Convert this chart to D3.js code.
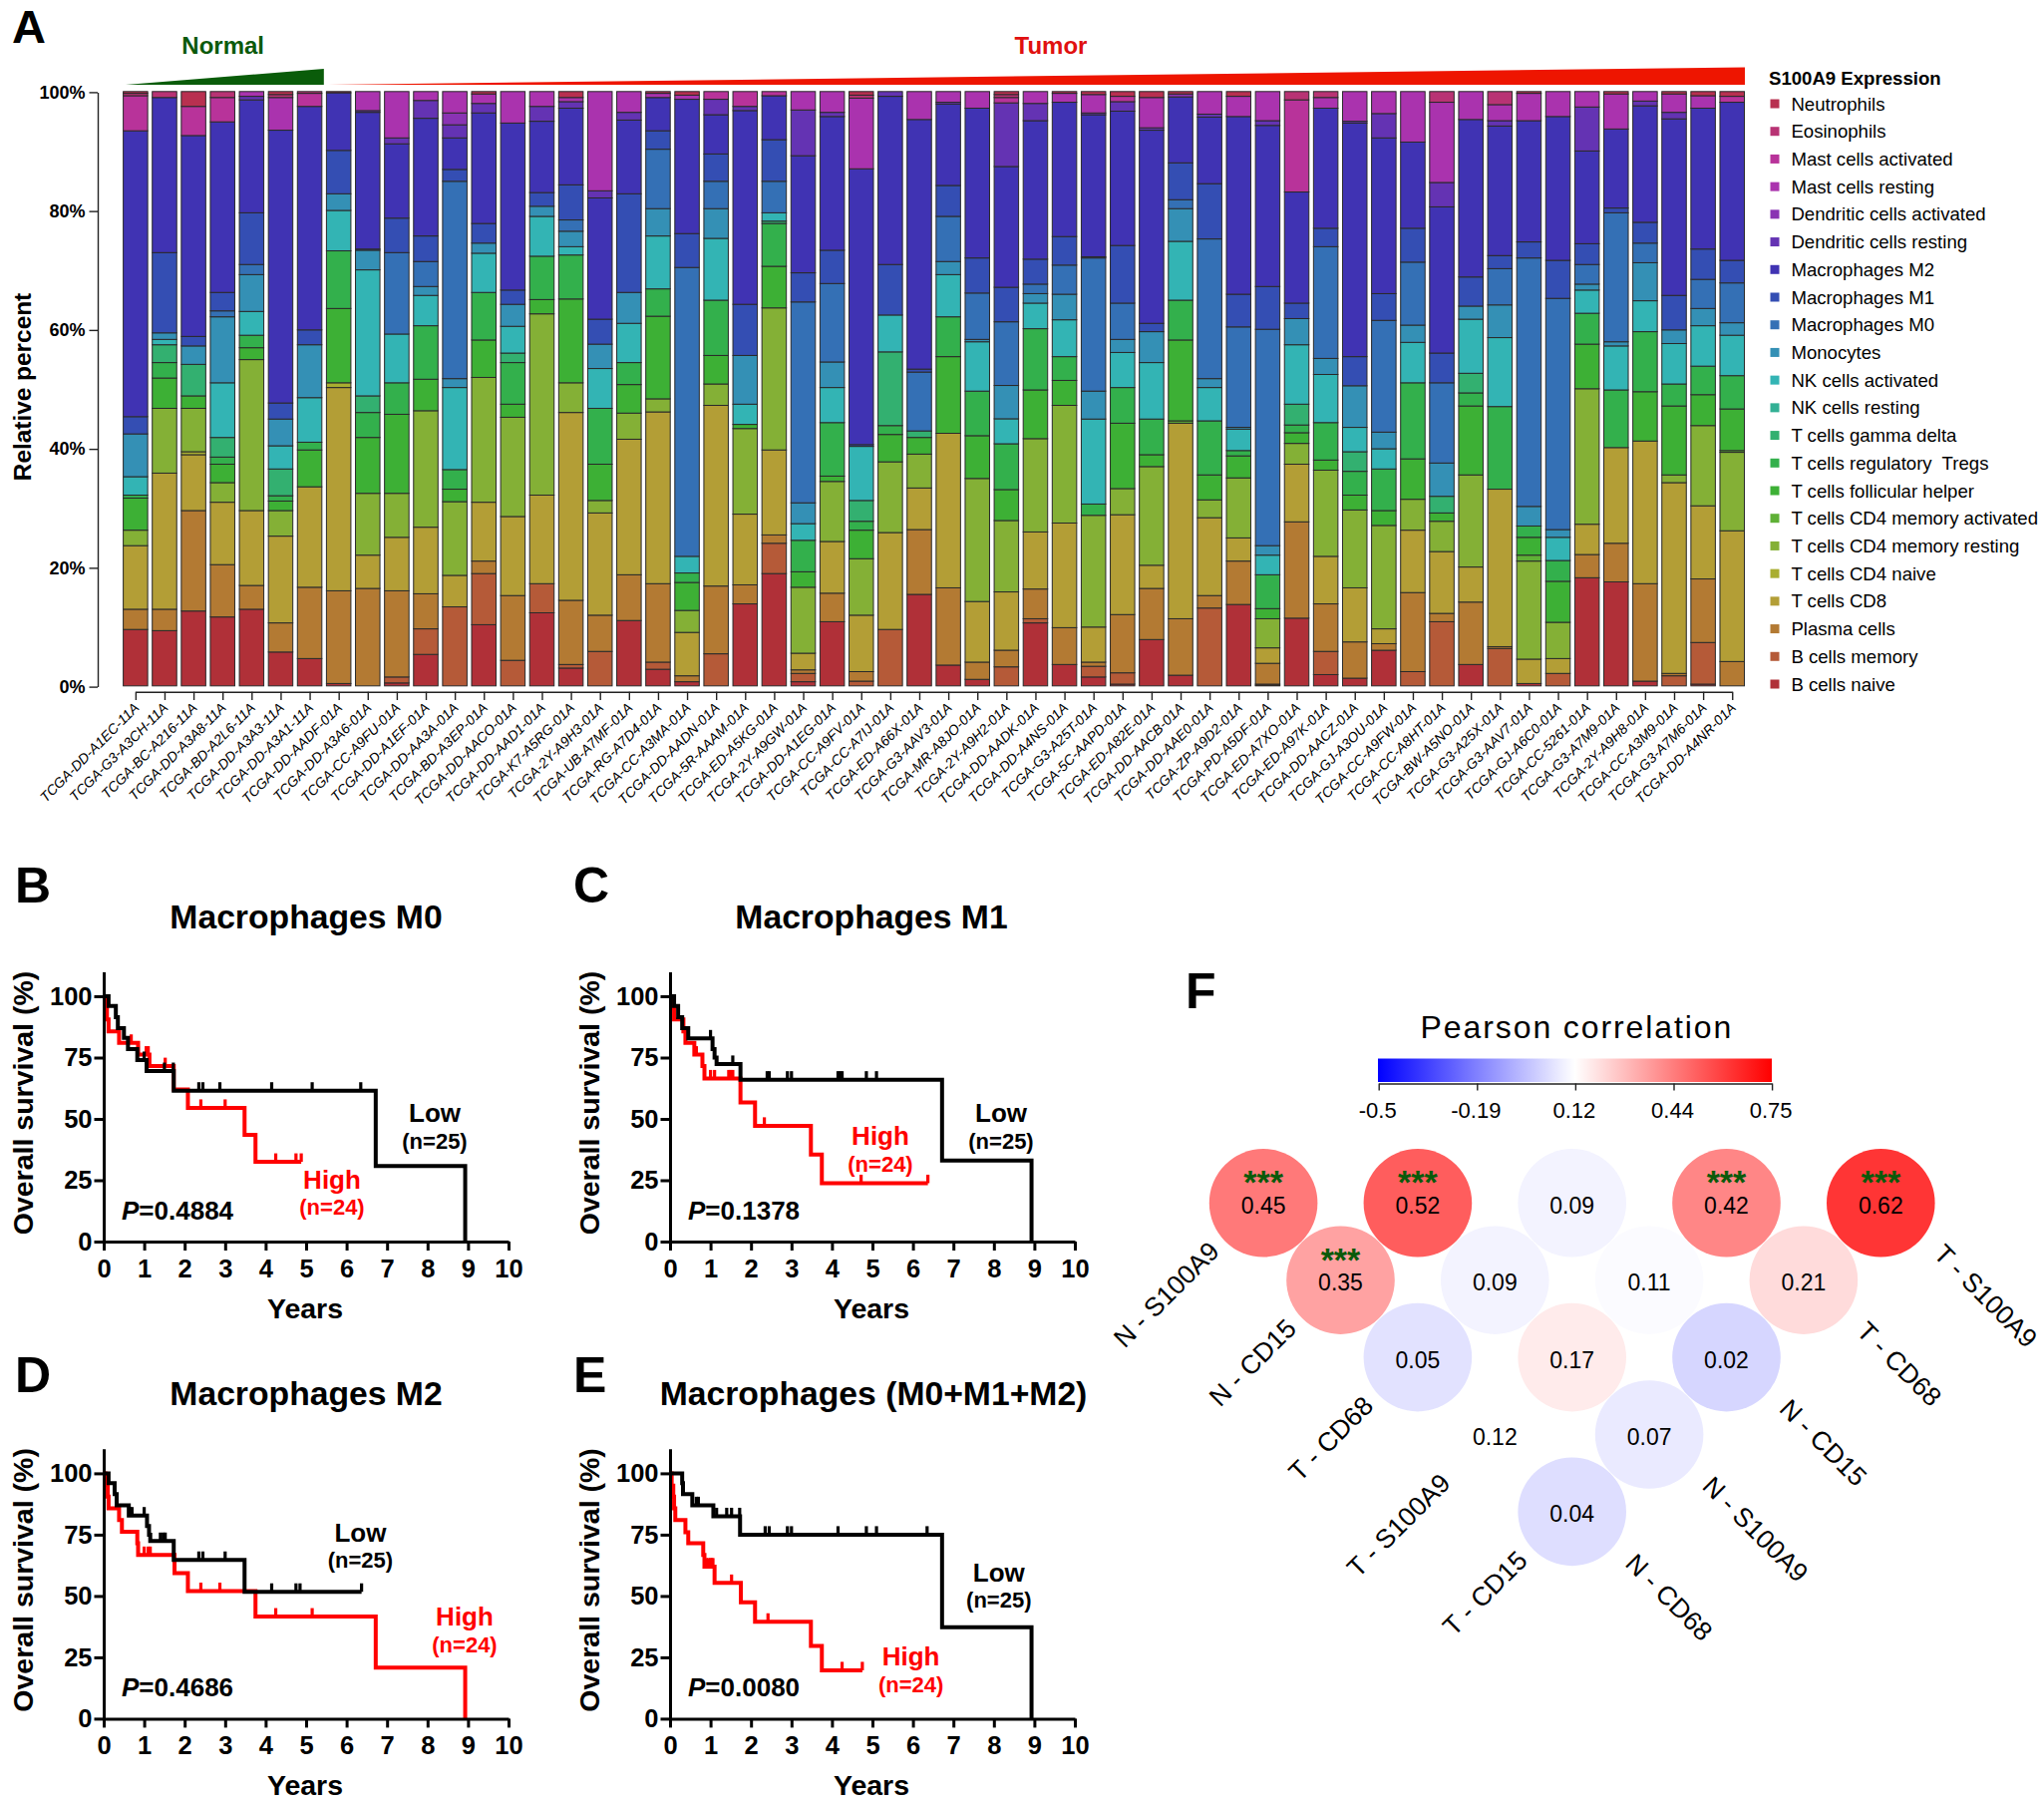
<!DOCTYPE html>
<html><head><meta charset="utf-8">
<script src="https://cdn.jsdelivr.net/npm/d3@7/dist/d3.min.js"></script>
<style>html,body{margin:0;padding:0;background:#fff}svg{display:block}text{font-family:"Liberation Sans",Arial,sans-serif;fill:#000;white-space:pre}</style>
</head><body><svg id="c" width="2050" height="1809" viewBox="0 0 2050 1809"></svg>
<script>
// ---------- Panel A data ----------
const samples=["TCGA-DD-A1EC-11A","TCGA-G3-A3CH-11A","TCGA-BC-A216-11A","TCGA-DD-A3A8-11A","TCGA-BD-A2L6-11A","TCGA-DD-A3A3-11A","TCGA-DD-A3A1-11A","TCGA-DD-AADF-01A","TCGA-DD-A3A6-01A","TCGA-CC-A9FU-01A","TCGA-DD-A1EF-01A","TCGA-DD-AA3A-01A","TCGA-BD-A3EP-01A","TCGA-DD-AACO-01A","TCGA-DD-AAD1-01A","TCGA-K7-A5RG-01A","TCGA-2Y-A9H3-01A","TCGA-UB-A7MF-01A","TCGA-RG-A7D4-01A","TCGA-CC-A3MA-01A","TCGA-DD-AADN-01A","TCGA-5R-AAAM-01A","TCGA-ED-A5KG-01A","TCGA-2Y-A9GW-01A","TCGA-DD-A1EG-01A","TCGA-CC-A9FV-01A","TCGA-CC-A7IJ-01A","TCGA-ED-A66X-01A","TCGA-G3-AAV3-01A","TCGA-MR-A8JO-01A","TCGA-2Y-A9H2-01A","TCGA-DD-AADK-01A","TCGA-DD-A4NS-01A","TCGA-G3-A25T-01A","TCGA-5C-AAPD-01A","TCGA-ED-A82E-01A","TCGA-DD-AACB-01A","TCGA-DD-AAE0-01A","TCGA-ZP-A9D2-01A","TCGA-PD-A5DF-01A","TCGA-ED-A7XO-01A","TCGA-ED-A97K-01A","TCGA-DD-AACZ-01A","TCGA-GJ-A3OU-01A","TCGA-CC-A9FW-01A","TCGA-CC-A8HT-01A","TCGA-BW-A5NO-01A","TCGA-G3-A25X-01A","TCGA-G3-AAV7-01A","TCGA-GJ-A6C0-01A","TCGA-CC-5261-01A","TCGA-G3-A7M9-01A","TCGA-2Y-A9H8-01A","TCGA-CC-A3M9-01A","TCGA-G3-A7M6-01A","TCGA-DD-A4NR-01A"];
// stacked bottom to top
const cellTypes=["B cells naive","B cells memory","Plasma cells","T cells CD8","T cells CD4 naive","T cells CD4 memory resting","T cells CD4 memory activated","T cells follicular helper","T cells regulatory  Tregs","T cells gamma delta","NK cells resting","NK cells activated","Monocytes","Macrophages M0","Macrophages M1","Macrophages M2","Dendritic cells resting","Dendritic cells activated","Mast cells resting","Mast cells activated","Eosinophils","Neutrophils"];
const cellColors=["#B03038","#B55A38","#B37A33","#B39E36","#A9AE30","#84B036","#5FB036","#3DB035","#33B04C","#33B070","#33B095","#33B4B4","#3490B5","#3470B5","#344EB3","#4033B3","#6433B3","#8A33B3","#AA33AE","#B8339A","#B83374","#B83050"];
const r01=[9.5,0,3.4,10.7,0,2.6,0,5.4,.5,0,0,3.1,7.2,0,2.9,48.1,0,0,0,5.9,.4,.3];
const r02=[9.3,0,3.6,22.9,0,10.9,0,5.1,2.6,3,0,.9,1.1,0,13.5,26.1,0,0,0,0,1,0];
const r03=[12.6,0,16.9,9.4,.5,7.3,0,2.1,0,5.3,0,0,3.1,0,1.6,33.8,0,0,0,4.9,0,2.5];
const r04=[11.6,0,8.8,10.5,0,3.3,0,3.1,1.2,3.3,0,9.2,11.1,1,3.1,28.7,0,0,0,4.1,1,0];
const r05=[12.9,0,4,12.6,0,25.4,0,2,2.1,0,0,4,6.2,1.7,8.7,19,.6,0,.8,0,0,0];
const r06=[5.7,0,4.9,14.6,0,4.3,0,1.6,.9,4.5,0,3.9,4.5,0,2.7,45.9,0,0,5.5,0,.5,.5];
const r07=[4.6,0,12,16.9,0,0,0,6.2,1.3,0,0,7.5,8.9,0,2.5,37.6,0,0,0,2.2,.3,0];
const r08=[.4,0,15.6,34.2,.8,0,0,12.5,9.7,0,0,6.8,2.8,0,7.3,9.7,0,0,0,0,0,.2];
const r09=[0,0,16.4,5.6,0,10.4,0,9.4,4.2,2.8,0,21.2,3.3,0,.2,23,.3,0,3.2,0,0,0];
const r10=[.5,1,14.5,9,0,7.4,0,13.3,5.3,0,0,8.2,0,13.7,5.8,12.5,1,0,7.8,0,0,0];
const r11=[5.3,4.3,5.9,11.2,0,19.6,0,5.3,9,0,0,5.1,1.5,4.2,4.3,19.8,3,0,1.5,0,0,0];
const r12=[0,13.3,0,5.3,0,12.4,0,2.1,3.3,0,0,13.8,1.5,33.2,2,5.3,2.2,2,3.6,0,0,0];
const r13=[10.3,8.6,2.1,9.9,0,21,0,6.3,8,0,0,6.6,1.7,0,3.3,18.6,1.6,0,1.6,0,0,.4];
const r14=[0,4.3,10.9,13.3,0,16.7,0,2.2,7,1.6,0,4.5,3.7,0,2.4,28.1,0,0,5.3,0,0,0];
const r15=[12.3,4.9,0,14.9,0,30.5,0,2.4,7.3,0,0,6.7,1.7,0,2.3,12,2.5,0,2.5,0,0,0];
const r16=[3,.6,10.8,31.6,0,5,0,14.1,7.4,0,0,1.4,2.6,1.9,5.9,12.9,1.1,0,.7,0,0,1];
const r17=[0,5.8,6.1,17.2,0,2.1,0,6.1,9.4,0,0,6.7,4.1,0,4.2,20.4,1.2,0,16.7,0,0,0];
const r18=[11,0,7.7,22.8,0,4.4,0,4.8,3.7,0,0,6.6,5.2,0,16.6,12.4,1.3,0,3.5,0,0,0];
const r19=[2.8,1.2,13.2,28.9,0,2.2,0,13.9,4.6,0,0,8.9,4.6,10,3.1,5.6,0,0,.7,0,0,.3];
const r20=[.7,0,1,7.3,0,3.7,0,4.7,1.6,0,0,2.8,0,48.6,5.7,22.6,0,0,.7,0,0,.6];
const r21=[0,5.4,11.4,30.4,0,3.6,0,4.8,9.3,0,0,10.4,5,4.6,4.6,6.6,2.6,0,0,1.3,0,0];
const r22=[13.8,0,3.2,11.9,0,14.4,0,.7,0,0,0,3.4,8.2,0,8.6,32.6,.7,0,0,2.5,0,0];
const r23=[18.9,5.1,1.4,14.3,0,23.9,0,7,7.2,.4,0,1.4,0,5.3,7,7.4,0,0,0,.7,0,0];
const r24=[.7,1.4,.6,2.8,0,11.1,0,2.6,5.3,0,0,2.8,3.5,33.8,4.9,19.7,7.7,0,3.1,0,0,0];
const r25=[10.8,0,4.8,8.7,0,10.1,0,.9,9,0,0,5.9,4.3,13.2,5.6,22.5,.7,0,3.5,0,0,0];
const r26=[0,.8,1.6,9.5,0,9.5,0,4.8,1.5,3.5,0,9.1,0,0,.3,46.4,0,0,11.9,0,.5,.6];
const r27=[0,9.5,0,16.3,0,11.9,0,4.6,1.5,12.4,0,6.2,0,0,8.5,28.3,.8,0,0,0,0,0];
const r28=[15.4,0,10.9,7,0,5.7,0,2.8,0,1.1,0,0,0,9.9,.5,42,0,0,4.7,0,0,0];
const r29=[3.5,0,13,26,0,0,0,12.9,6.7,0,0,7.1,2.2,7.6,5.2,13.7,.3,0,1.8,0,0,0];
const r30=[1.1,0,2.9,10.2,0,20.7,0,7.2,7.5,0,0,8.3,.4,7.8,5.9,25.2,0,0,2.8,0,0,0];
const r31=[0,3.2,2.8,9.8,0,12,0,5.2,7.7,0,0,4.2,5.6,10.7,5.8,20.3,10.7,0,0,.9,.5,.5];
const r32=[10.6,.7,5,9.6,0,15.7,0,8.2,10.3,0,0,4.3,1.6,1.6,4.2,23.3,2.9,0,2,0,0,0];
const r33=[3.6,0,6.2,17.6,0,19.8,0,4.2,4,0,0,6.2,4.3,4.9,4.8,22.6,0,0,1.5,0,0,.3];
const r34=[1.5,1.8,.7,5.9,0,18.8,0,0,1.9,0,0,14.3,4.7,22.4,.2,23.9,.3,0,3.1,0,0,.5];
const r35=[.3,1.9,9.8,16.8,0,4.4,0,11,6,0,0,5.9,2.2,6.1,9.7,22.6,1.6,0,0,.9,0,.8];
const r36=[7.8,0,8.6,3.9,0,16.6,0,2,6,0,0,9.5,5.2,0,1.4,32.5,.4,0,5.1,0,0,1];
const r37=[1.8,0,9.5,32.9,0,0,.4,13.6,6.7,0,0,9.9,5.5,1.5,6.2,11.1,0,.5,0,0,0,.4];
const r38=[0,13.1,2.1,13.1,0,3,0,4.2,9.1,0,0,5.6,1.5,23.5,9.3,11.2,.5,0,3.8,0,0,0];
const r39=[13.7,0,7.3,3.9,0,10.1,0,3.7,.9,0,0,3.6,.3,16.9,5.5,29.9,0,0,3.4,0,0,.8];
const r40=[.1,.2,3.5,2.6,0,4.9,0,1.7,5.7,0,0,3.3,1.6,36.4,7.2,27.1,.8,0,4.9,0,0,0];
const r41=[11.4,0,16.2,9.7,0,3.5,0,1.8,1.3,3.5,0,10,4.4,0,2.6,18.7,0,0,0,15.5,1.4,0];
const r42=[1.9,3.9,8,8,0,14.5,0,1.7,6.3,0,0,8.1,2.7,18.8,3.1,20.2,0,0,1.8,0,1,0];
const r43=[1.3,0,6.1,9.1,0,13.1,0,2.5,4,3.3,0,4.1,7,0,4.9,39.3,.3,0,5,0,0,0];
const r44=[6,0,1.1,2.5,0,17.4,0,2.5,7,0,0,3.4,2.8,18.8,4.5,26.2,4.1,0,3.7,0,0,0];
const r45=[0,2.4,13.3,10.5,0,5.2,0,6.8,12.8,0,0,6.8,2.9,10.6,5.7,14.5,0,0,8.5,0,0,0];
const r46=[0,10.8,1.4,10.4,0,5.1,0,1.4,0,2.8,0,0,5.6,13.5,5,24.6,4.1,0,13.5,0,1.8,0];
const r47=[3.6,0,10.5,5.9,0,15.5,0,11.6,2.2,3.3,0,9.1,2.2,0,4.9,26.5,0,0,4.7,0,0,0];
const r48=[0,6.3,.3,26.5,0,0,0,0,13.9,0,0,11.6,5.5,6.1,2.2,21.8,.9,0,2.7,0,2.2,0];
const r49=[.4,0,0,4.1,0,16.5,1,3,1.9,0,0,0,3.3,41.8,2.7,20.4,0,0,4.6,0,0,.3];
const r50=[0,2.1,0,2.5,0,6.1,0,6.9,3.5,0,0,3.9,1.3,38.9,6.4,24.2,0,0,4.2,0,0,0];
const r51=[18.2,0,3.9,5.1,0,22.8,0,7.5,5.2,0,0,3.9,1,3.3,3.5,15.6,7.4,0,2.6,0,0,0];
const r52=[17.5,0,6.5,16.1,0,0,0,0,9.7,0,0,7.4,.7,21.7,.8,13.3,0,0,5.9,0,0,.4];
const r53=[.8,0,16.4,24,0,0,0,8.3,10.1,0,0,5.2,6.4,3.3,3.5,19.6,.8,0,1.6,0,0,0];
const r54=[0,1.7,.4,32.1,0,1.3,0,11.6,3.7,0,0,6.8,2.3,0,5.8,29.7,1.1,0,3.1,0,0,.4];
const r55=[.3,7,10.7,12.3,0,13.5,0,5.2,4.8,0,0,6.8,2.9,4.9,5.1,23.7,0,0,2.1,0,0,.7];
const r56=[0,0,4.1,22,0,13.2,.3,7,5.6,0,0,6.8,2.1,6.7,3.8,26.6,0,0,0,1,0,.8];
const pctTicks=[0,20,40,60,80,100];

// ---------- Panels B-E data (years, % surviving, censor years) ----------
const yearTicks=[0,1,2,3,4,5,6,7,8,9,10];
const survivalTicks=[0,25,50,75,100];
const bLowT=[0,.12,.3,.35,.5,.6,.83,1.06,1.73,6.72,8.93];
const bLowS=[100,96,91.5,87,83,78.5,74,69.5,61.5,30.8,0];
const bLowC=[1,1.5,1.72,2.35,2.45,2.87,4.15,5.15,6.35];
const bHighT=[0,.04,.08,.12,.38,.85,1.13,1.73,2.08,3.48,3.75,4.88];
const bHighS=[100,95.2,90.5,85.7,81,76.2,71.5,62,54.5,43.5,32.5,32.5];
const bHighC=[.68,.85,1.05,1.1,1.52,2.4,3,4.25,4.75,4.88];
const cLowT=[0,.1,.2,.3,.45,1.05,1.1,1.15,1.74,6.72,8.93];
const cLowS=[100,96,91.5,87,82.8,78.5,75,72.4,66,33,0];
const cLowC=[1,1.55,2.4,2.45,2.9,3,4.15,4.2,4.25,4.85,5.1];
const cHighT=[0,.05,.1,.33,.38,.6,.8,.85,1.74,2.1,3.48,3.75,6.37];
const cHighS=[100,95.2,90.5,85.7,81,76.2,71.5,66.5,56.7,47.2,35.5,23.8,23.8];
const cHighC=[.65,1,1.1,1.45,1.5,1.55,2.33,4.72,6.37];
const dLowT=[0,.12,.27,.32,.62,1.07,1.12,1.15,1.73,3.48,6.37];
const dLowS=[100,96,91.5,87,82.8,78.5,75,72.4,64.7,51.7,51.7];
const dLowC=[.65,.7,1,1.4,1.47,1.52,2.35,2.45,3,4.15,4.75,4.85,6.37];
const dHighT=[0,.04,.1,.12,.38,.45,.83,.85,1.75,2.08,3.75,6.72,8.93];
const dHighS=[100,95.2,90.5,85.7,81,76.2,71.5,66.7,59.3,52,41.6,20.8,0];
const dHighC=[1,1.1,1.15,2.4,2.87,4.25,5.15];
const eLowT=[0,.3,.32,.55,1.07,1.73,6.72,8.93];
const eLowS=[100,96,91.5,87,82.5,75,37.3,0];
const eLowC=[.65,.7,1.15,1.4,1.52,1.72,2.35,2.45,2.9,3,4.15,4.85,5.1,6.35];
const eHighT=[0,.04,.08,.1,.13,.38,.45,.82,.85,1.1,1.75,2.1,3.48,3.75,4.75];
const eHighS=[100,95,90.5,85.7,81,76,71.5,66.7,62,55.3,47.4,39.5,29.6,19.7,19.7];
const eHighC=[.9,.95,1,1.03,1.06,1.52,2.42,4.25,4.75];

// ---------- Panel F data ----------
const corrRow1=[.45,.52,.09,.42,.62];
const corrRow2=[.35,.09,.11,.21];
const corrRow3=[.05,.17,.02];
const corrRow4=[.12,.07];
const corrRow5=[.04];
const starRow1=[1,1,0,1,1];
const starRow2=[1,0,0,0];
const leftNames=["N - S100A9","N - CD15","T - CD68","T - S100A9","T - CD15"];
const rightNames=["T - S100A9","T - CD68","N - CD15","N - S100A9","N - CD68"];
const colorbarTicks=[-.5,-.19,.12,.44,.75];

// ---------- drawing ----------
const svg=d3.select("#c");
function label(x,y,s,o={}){
  const t=svg.append("text").attr("x",x).attr("y",y).text(s)
    .attr("font-size",o.size||20).attr("font-weight",o.bold?"bold":"normal")
    .attr("text-anchor",o.anchor||"start");
  if(o.fill)t.style("fill",o.fill);
  if(o.rotate!==undefined)t.attr("transform",`rotate(${o.rotate} ${x} ${y})`);
  if(o.spacing)t.style("letter-spacing",o.spacing+"px");
  if(o.baseline)t.attr("dominant-baseline",o.baseline);
  return t;
}
[["A",12,43,47],["B",15,905,50],["C",575,905,50],["D",15,1396,50],["E",575,1396,50],["F",1189,1011,50]].forEach(d=>label(d[1],d[2],d[0],{size:d[3],bold:true}));

// Panel A
const table=[r01,r02,r03,r04,r05,r06,r07,r08,r09,r10,r11,r12,r13,r14,r15,r16,r17,r18,r19,r20,r21,r22,r23,r24,r25,r26,r27,r28,r29,r30,r31,r32,r33,r34,r35,r36,r37,r38,r39,r40,r41,r42,r43,r44,r45,r46,r47,r48,r49,r50,r51,r52,r53,r54,r55,r56];
const xBand=d3.scaleBand().domain(samples).range([123.6,1749.5]).paddingInner(.158).paddingOuter(0);
const yBar=d3.scaleLinear().domain([0,1]).range([687.8,91.8]);
const stack=d3.stack().keys(d3.range(cellTypes.length)).value((row,k)=>row[k]).offset(d3.stackOffsetExpand);
const layers=stack(table);
const gBars=svg.append("g");
layers.forEach((layer,k)=>{
  gBars.append("g").selectAll("rect").data(layer.map((d,i)=>({y0:d[0],y1:d[1],s:samples[i]})).filter(d=>d.y1>d.y0))
    .join("rect").attr("x",d=>xBand(d.s)).attr("width",xBand.bandwidth())
    .attr("y",d=>yBar(d.y1)).attr("height",d=>yBar(d.y0)-yBar(d.y1))
    .attr("fill",cellColors[k]).attr("stroke","#2a2a2a").attr("stroke-width",1);
});
const yPct=d3.scaleLinear().domain([0,100]).range([688.6,92.4]);
const axA=svg.append("g").attr("transform","translate(98,0)").call(d3.axisLeft(yPct).tickValues(pctTicks).tickFormat(d=>d+"%").tickSize(8.5).tickSizeOuter(0).tickPadding(4));
axA.selectAll("path,line").attr("stroke","#222").attr("stroke-width",1.4);
axA.selectAll("text").attr("font-size",18).attr("font-weight","bold").attr("font-family",null);
const xPoint=d3.scalePoint().domain(samples).range([xBand(samples[0])+xBand.bandwidth()/2,xBand(samples[55])+xBand.bandwidth()/2]);
const axX=svg.append("g").attr("transform","translate(0,693.7)").call(d3.axisBottom(xPoint).tickSize(8.3).tickSizeOuter(0));
axX.selectAll("path,line").attr("stroke","#222").attr("stroke-width",1.4);
axX.selectAll("text").attr("font-size",14).attr("font-style","italic").attr("font-family",null)
  .attr("text-anchor","end").attr("y",0).attr("dy",0).attr("x",0)
  .attr("transform","translate(4,17) rotate(-45)");
label(31,388,"Relative percent",{size:24.4,bold:true,anchor:"middle",rotate:-90});
label(223.7,54,"Normal",{size:24,bold:true,anchor:"middle",fill:"#0B5A0B"});
label(1054,54,"Tumor",{size:24,bold:true,anchor:"middle",fill:"#E01010"});
const rampUnit=[0,1];
const wedge=(a,b,h)=>d3.area().x(d=>a+(b-a)*d).y0(85).y1(d=>85-h*d)(rampUnit);
svg.append("path").attr("d",wedge(126,xBand(samples[6])+xBand.bandwidth()+2,16)).attr("fill","#0A5C0A");
svg.append("path").attr("d",wedge(329.5,1750,17.5)).attr("fill","#EE1500");
label(1774,85,"S100A9 Expression",{size:18.6,bold:true});
const legendY=d3.scaleLinear().domain([0,21]).range([104,686]);
cellTypes.slice().reverse().forEach((n,i)=>{
  svg.append("rect").attr("x",1775.5).attr("y",legendY(i)-4.5).attr("width",9).attr("height",9).attr("fill",cellColors[21-i]);
  label(1796.4,legendY(i),n,{size:18.6,baseline:"central"});
});

// Panels B-E
const kmY0={top:1245,bottom:1723.4};
function km(o){
  const x=d3.scaleLinear().domain([0,10]).range([o.x0,o.x0+406]);
  const y=d3.scaleLinear().domain([0,100]).range([o.y0,o.y0-246]);
  const yAxisScale=d3.scaleLinear().domain([0,110]).range([y(0),y(110)]);
  const line=d3.line().x(d=>x(d[0])).y(d=>y(d[1])).curve(d3.curveStepAfter);
  const g=svg.append("g");
  [[o.high,"#FF0000"],[o.low,"#000"]].forEach(([c,col])=>{
    g.append("path").attr("d",line(d3.zip(c.t,c.s))).attr("fill","none").attr("stroke",col).attr("stroke-width",4);
    g.append("g").selectAll("line").data(c.c).join("line")
      .attr("x1",d=>x(d)).attr("x2",d=>x(d))
      .attr("y1",d=>y(c.s[d3.bisectRight(c.t,d)-1]))
      .attr("y2",d=>y(c.s[d3.bisectRight(c.t,d)-1])-8.5)
      .attr("stroke",col).attr("stroke-width",3.2);
  });
  const ax=svg.append("g").attr("transform",`translate(${o.x0},0)`).call(d3.axisLeft(yAxisScale).tickValues(survivalTicks).tickSize(9.5).tickSizeOuter(0).tickPadding(2));
  const bx=svg.append("g").attr("transform",`translate(0,${o.y0})`).call(d3.axisBottom(x).tickValues(yearTicks).tickFormat(d3.format("d")).tickSize(9).tickSizeOuter(0).tickPadding(9));
  [ax,bx].forEach(a=>{a.selectAll("path,line").attr("stroke","#000").attr("stroke-width",3);a.selectAll("text").attr("font-size",25.5).attr("font-weight","bold").attr("font-family",null);});
  label(o.x0-71,o.y0-139,"Overall survival (%)",{size:28.5,bold:true,anchor:"middle",rotate:-90});
  label(o.x0+202,o.y0+77,"Years",{size:28.5,bold:true,anchor:"middle"});
  label(o.titleX,o.titleY,o.title,{size:33.7,bold:true,anchor:"middle"});
  const p=label(o.x0+18,o.pY,"",{size:26,bold:true});
  p.append("tspan").attr("font-style","italic").text("P");p.append("tspan").text("="+o.p);
  label(o.lowX,o.lowY,"Low",{size:26,bold:true,anchor:"middle"});
  label(o.lowX,o.lowY+26.7,"(n=25)",{size:22,bold:true,anchor:"middle"});
  label(o.highX,o.highY,"High",{size:26,bold:true,anchor:"middle",fill:"#FF0000"});
  label(o.highX,o.highY+26.7,"(n=24)",{size:22,bold:true,anchor:"middle",fill:"#FF0000"});
}
km({x0:104,y0:kmY0.top,title:"Macrophages M0",titleX:307,titleY:930.7,p:"0.4884",pY:1222.7,lowX:436,lowY:1125,highX:333,highY:1191.7,low:{t:bLowT,s:bLowS,c:bLowC},high:{t:bHighT,s:bHighS,c:bHighC}});
km({x0:672,y0:kmY0.top,title:"Macrophages M1",titleX:874,titleY:930.7,p:"0.1378",pY:1222.7,lowX:1004,lowY:1125,highX:883,highY:1148,low:{t:cLowT,s:cLowS,c:cLowC},high:{t:cHighT,s:cHighS,c:cHighC}});
km({x0:104,y0:kmY0.bottom,title:"Macrophages M2",titleX:307,titleY:1409.3,p:"0.4686",pY:1701,lowX:361.4,lowY:1545.7,highX:466,highY:1630,low:{t:dLowT,s:dLowS,c:dLowC},high:{t:dHighT,s:dHighS,c:dHighC}});
km({x0:672,y0:kmY0.bottom,title:"Macrophages (M0+M1+M2)",titleX:876,titleY:1409.3,p:"0.0080",pY:1701,lowX:1001.8,lowY:1585.7,highX:913.6,highY:1670,low:{t:eLowT,s:eLowS,c:eLowC},high:{t:eHighT,s:eHighS,c:eHighC}});

// Panel F
const corColor=d3.scaleLinear().domain([-.5,.12,.75]).range(["#0000FF","#FFFFFF","#FF0000"]);
label(1581.4,1041,"Pearson correlation",{size:32,anchor:"middle",spacing:1.9});
const cbX=d3.scaleLinear().domain(colorbarTicks).range(d3.range(5).map(i=>1382.7+i*98.6));
const defs=svg.append("defs");
const grad=defs.append("linearGradient").attr("id","cb");
d3.range(0,1.0001,.05).forEach(f=>{const px=cbX.range()[0]+f*394.4;grad.append("stop").attr("offset",f).attr("stop-color",corColor(cbX.invert(px)));});
svg.append("rect").attr("x",1382).attr("y",1061.5).attr("width",395).attr("height",23.5).attr("fill","url(#cb)");
const axCb=svg.append("g").attr("transform","translate(0,1086.5)").call(d3.axisBottom(cbX).tickValues(colorbarTicks).tickFormat(String).tickSize(7).tickSizeOuter(0).tickPadding(12));
axCb.selectAll("path,line").attr("stroke","#222").attr("stroke-width",1.4);
axCb.selectAll("text").attr("font-size",22).attr("font-family",null).attr("dx",-1.5);
const gridX=d3.scaleLinear().domain([0,4]).range([1267.1,1886.3]);
const gridY=d3.scaleLinear().domain([0,4]).range([1206.3,1515.9]);
[corrRow1,corrRow2,corrRow3,corrRow4,corrRow5].forEach((row,r)=>{
  svg.append("g").selectAll("circle").data(row).join("circle")
    .attr("cx",(d,i)=>gridX(i+r/2)).attr("cy",gridY(r)).attr("r",54.3).attr("fill",d=>corColor(d));
});
[corrRow1,corrRow2,corrRow3,corrRow4,corrRow5].forEach((row,r)=>{
  row.forEach((v,i)=>label(gridX(i+r/2),gridY(r)+2.5,v.toFixed(2),{size:23,anchor:"middle",baseline:"central"}));
});
[starRow1,starRow2].forEach((row,r)=>{
  row.forEach((s,i)=>{if(s)label(gridX(i+r/2),gridY(r)-9,"***",{size:34,bold:true,anchor:"middle",fill:"#0A5A0A"});});
});
const nameStep=d3.scaleLinear().domain([0,4]);
const leftX=nameStep.copy().range([1218,1527]),leftY=nameStep.copy().range([1250,1560]);
const rightX=nameStep.copy().range([1944.4,1635]),rightY=nameStep.copy().range([1252.6,1563]);
leftNames.forEach((n,i)=>label(leftX(i),leftY(i),n,{size:26.4,anchor:"end",rotate:-45,baseline:"central"}));
rightNames.forEach((n,i)=>label(rightX(i),rightY(i),n,{size:26.4,rotate:45,baseline:"central"}));
</script></body></html>
